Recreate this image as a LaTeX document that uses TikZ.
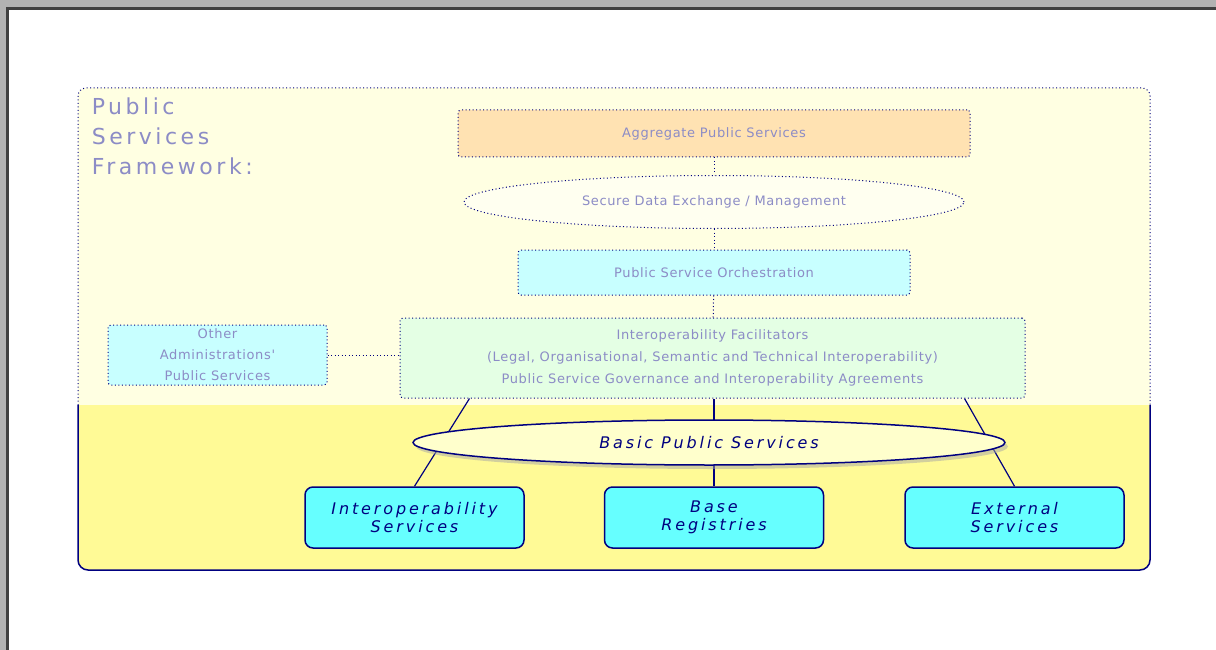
\documentclass[tikz,border=0pt]{standalone}
\usepackage{fontspec}
\newfontfamily\dfont[LetterSpace=18,ItalicFont={DejaVu Sans Oblique}]{DejaVu Sans}
\newfontfamily\ffont[LetterSpace=5]{DejaVu Sans}
\newfontfamily\tfont[LetterSpace=16]{DejaVu Sans}
\usetikzlibrary{positioning,calc,shapes.geometric,shadows}
\definecolor{eifnavy}{RGB}{0,0,128}
\definecolor{svccyan}{RGB}{102,255,255}
\definecolor{lowyellow}{RGB}{255,250,150}
\definecolor{upperpale}{RGB}{255,255,226}
\definecolor{bpsfill}{RGB}{255,255,204}
\definecolor{fadorange}{RGB}{255,226,178}
\definecolor{fadcyan}{RGB}{200,255,255}
\definecolor{fadgreen}{RGB}{228,255,228}
\pgfdeclarelayer{bg}
\pgfdeclarelayer{wires}
\pgfsetlayers{bg,wires,main}

\begin{document}
\begin{tikzpicture}[x=1pt,y=-1pt,node distance=79pt,
  svc/.style={draw=eifnavy,line width=1.5pt,rounded corners=8pt,fill=svccyan,
              minimum width=219pt,minimum height=61pt,align=center,text=eifnavy,
              font=\dfont\fontsize{16}{18}\selectfont\itshape},
  faded/.style={draw=eifnavy,line width=1pt,dash pattern=on 1pt off 2.5pt,
                rounded corners=3pt,align=center,text=eifnavy!45,
                font=\ffont\fontsize{13}{22}\selectfont},
  dotline/.style={eifnavy,line width=1pt,dash pattern=on 1pt off 2.5pt},
  wire/.style={eifnavy,line width=1.2pt}]
\useasboundingbox (0,0) rectangle (1216,650);
\begin{pgfonlayer}{bg}
\fill[white] (0,0) rectangle (1216,650);
\fill[gray!60] (0,0) rectangle (1216,10);
\fill[black!75] (6,7) rectangle (1216,10);
\fill[gray!60] (0,0) rectangle (9,650);
\fill[black!75] (6,7) rectangle (9,650);
\fill[lowyellow,rounded corners=10pt] (78,380) rectangle (1150,570);
\fill[upperpale,rounded corners=8pt] (78,88) rectangle (1150,300);
\fill[upperpale] (78,200) rectangle (1150,405);
\draw[eifnavy,line width=1.5pt,rounded corners=10pt] (78,405) -- (78,570) -- (1150,570) -- (1150,405);
\draw[dotline,rounded corners=8pt] (78,405) -- (78,88) -- (1150,88) -- (1150,405);
\end{pgfonlayer}

\node[faded,draw=none,anchor=north west,align=left,font=\tfont\fontsize{22}{30}\selectfont] (psf) at (88,94) {Public\\Services\\Framework:};
\node[faded,fill=fadorange,minimum width=512pt,minimum height=47pt] (aggr) at (714,133.5) {Aggregate Public Services};
\node[faded,ellipse,fill=white!50!upperpale,minimum width=500pt,minimum height=53pt] (sde) at (714,202) {Secure Data Exchange / Management};
\node[faded,fill=fadcyan,minimum width=392pt,minimum height=45pt] (orch) at (714,272.5) {Public Service Orchestration};
\node[faded,fill=fadgreen,minimum width=625pt,minimum height=80pt] (facil) at (712.5,358) {Interoperability Facilitators\\(Legal, Organisational, Semantic and Technical Interoperability)\\Public Service Governance and Interoperability Agreements};
\node[faded,fill=fadcyan,minimum width=219pt,minimum height=60pt,font=\ffont\fontsize{13}{21}\selectfont] (other) at (217.5,355) {Other\\Administrations'\\Public Services};

\node[ellipse,draw=eifnavy,line width=1.5pt,fill=bpsfill,minimum width=592pt,minimum height=45pt,
      drop shadow={shadow xshift=3pt,shadow yshift=-4pt,fill=gray!70},text=eifnavy,
      font=\dfont\fontsize{16}{18}\selectfont\itshape] (bps) at (709,442.5) {Basic Public Services};
\node[svc] (interop) at (414.5,517.5) {Interoperability\\Services};
\node[svc,right=of interop] (base) {Base\\Registries};
\node[svc,right=80pt of base] (external) {External\\Services};

\draw[dotline] (aggr) -- (sde);
\draw[dotline] (sde) -- (orch);
\draw[dotline] (orch) -- (facil);
\draw[dotline] (other.east) -- (other.east -| facil.west);
\begin{pgfonlayer}{wires}
\draw[wire] (interop.north) -- ($(interop.north |- facil.south)+(55,0)$);
\draw[wire] (base.north) -- (base.north |- facil.south);
\draw[wire] (external.north) -- ($(external.north |- facil.south)+(-50,0)$);
\end{pgfonlayer}
\end{tikzpicture}
\end{document}
